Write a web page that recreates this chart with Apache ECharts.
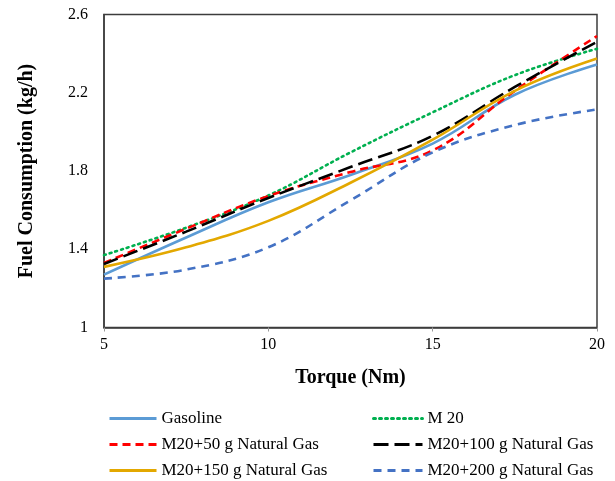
<!DOCTYPE html>
<html><head><meta charset="utf-8">
<script src="https://cdn.jsdelivr.net/npm/echarts@6/dist/echarts.min.js"></script>
<style>html,body{margin:0;padding:0;background:#fff}#c{width:615px;height:481px}</style>
</head><body><div id="c"></div>
<script>
const torque = [5, 7.5, 10, 12.5, 15, 17.5, 20];
const gasoline = [1.27, 1.46, 1.64, 1.78, 1.94, 2.19, 2.345];
const m20 = [1.37, 1.51, 1.675, 1.895, 2.10, 2.29, 2.425];
const m20ng50 = [1.33, 1.505, 1.672, 1.795, 1.905, 2.21, 2.49];
const m20ng100 = [1.325, 1.49, 1.662, 1.82, 1.98, 2.23, 2.46];
const m20ng150 = [1.31, 1.41, 1.545, 1.74, 1.96, 2.21, 2.375];
const m20ng200 = [1.25, 1.296, 1.41, 1.65, 1.895, 2.035, 2.115];
const yTicks = [1, 1.4, 1.8, 2.2, 2.6];
const xTicks = [5, 10, 15, 20];
const seriesNames = ['Gasoline','M 20','M20+50 g Natural Gas','M20+100 g Natural Gas','M20+150 g Natural Gas','M20+200 g Natural Gas'];

const font = '"Liberation Serif","Times New Roman",serif';
function pts(arr){ return torque.map((x,i)=>[x, arr[i]]); }
function mk(name, data, color, type, cap){
  return {name, type:'line', data:pts(data), smooth:0.4, symbol:'none', showSymbol:false,
    lineStyle:{color, width:2.6, type, cap: cap||'butt'}, itemStyle:{color}};
}
const legendPos = [[108,410,47],[372,410,49],[108,436,47],[372,436,49],[108,462,47],[372,462,49]];
const legends = seriesNames.map((n,i)=>({
  left:legendPos[i][0], top:legendPos[i][1], padding:0, itemWidth:legendPos[i][2], itemHeight:14, itemGap:0,
  data:[n], itemStyle:{opacity:0}, lineStyle:{width:3},
  textStyle:{fontFamily:font, fontSize:17, color:'#000', padding:[0,0,0,0]}
}));
const chart = echarts.init(document.getElementById('c'), null, {renderer:'canvas'});
chart.setOption({
  animation:false,
  grid:{left:104, right:18, top:14.5, bottom:153.5, show:true, borderColor:'#3c3c3c', borderWidth:1.5, containLabel:false},
  xAxis:{type:'value', min:5, max:20, interval:5,
    name:'Torque (Nm)', nameLocation:'middle', nameGap:40,
    nameTextStyle:{fontFamily:font, fontSize:20, fontWeight:'bold', color:'#000'},
    axisLine:{show:true, lineStyle:{color:'#3c3c3c', width:1.5}},
    axisTick:{show:true, length:4, lineStyle:{color:'#999'}},
    splitLine:{show:false},
    axisLabel:{fontFamily:font, fontSize:16, color:'#000', margin:9}},
  yAxis:{type:'value', min:1, max:2.6, interval:0.4,
    name:'Fuel Consumption (kg/h)', nameLocation:'middle', nameGap:67,
    nameTextStyle:{fontFamily:font, fontSize:20, fontWeight:'bold', color:'#000'},
    axisLine:{show:true, lineStyle:{color:'#3c3c3c', width:1.5}},
    axisTick:{show:false}, splitLine:{show:false},
    axisLabel:{fontFamily:font, fontSize:16, color:'#000', margin:16,
      formatter:v=>yTicks.includes(Math.round(v*10)/10)? String(Math.round(v*10)/10):''}},
  legend:legends,
  series:[
    mk(seriesNames[0], gasoline, '#5B9BD5', 'solid'),
    mk(seriesNames[1], m20, '#00B050', [2,4], 'round'),
    mk(seriesNames[2], m20ng50, '#FF0000', [8,5]),
    mk(seriesNames[3], m20ng100, '#000000', [15,6]),
    mk(seriesNames[4], m20ng150, '#E3A800', 'solid'),
    mk(seriesNames[5], m20ng200, '#4472C4', [8,6])
  ]
});
</script></body></html>
